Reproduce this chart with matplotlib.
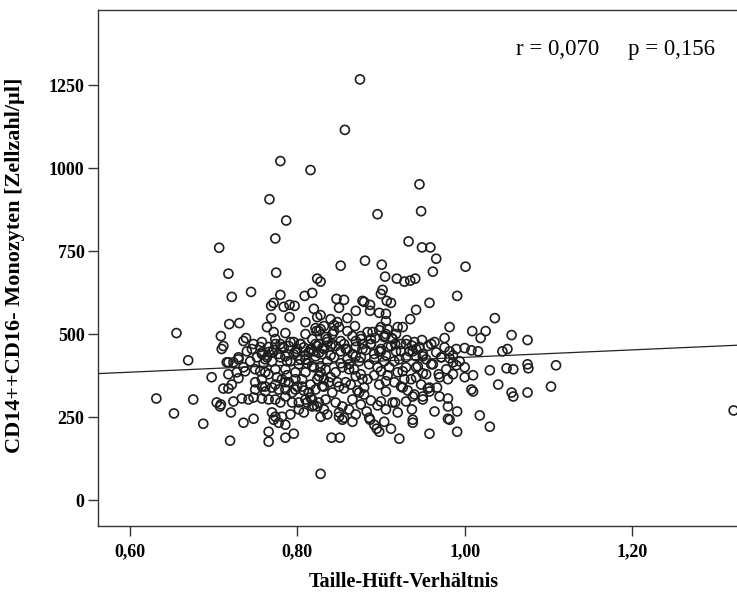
import numpy as np
import matplotlib
matplotlib.use('Agg')
import matplotlib.pyplot as plt

plt.rcParams['font.family'] = ['Liberation Serif', 'DejaVu Serif']

x_label = 'Taille-Hüft-Verhältnis'
y_label = 'CD14++CD16- Monozyten [Zellzahl/µl]'
x_ticks = [0.60, 0.80, 1.00, 1.20]
x_ticklabels = ['0,60', '0,80', '1,00', '1,20']
y_ticks = [0, 250, 500, 750, 1000, 1250]
stats_text = 'r = 0,070     p = 0,156'

# linear fit shown in the chart
fit_intercept = 318
fit_slope = 112

# waist-hip ratio / monocyte count, one row of whr matches one row of mono
whr = [
    0.875, 0.857, 0.780, 0.816, 0.767, 0.787, 0.896, 0.946, 0.948, 0.774,
    0.707, 0.933, 0.949, 0.959, 0.966, 0.881, 0.852, 0.901, 1.001, 0.962,
    0.718, 0.775, 0.905, 0.824, 0.828, 0.919, 0.928, 0.935, 0.941, 0.902,
    0.900, 0.745, 0.722, 0.780, 0.809, 0.818, 0.991, 0.847, 0.856, 0.878,
    0.880, 0.912, 0.907, 0.958, 0.828, 0.632, 0.653, 0.670,
    0.887, 0.769, 0.772, 0.784, 0.791, 0.797, 0.820, 0.850, 0.870, 0.887,
    0.898, 0.906, 0.942, 0.828, 0.906, 0.935, 0.791, 0.769, 0.840, 0.844,
    0.860, 1.036, 0.926, 0.982, 0.719, 0.731, 0.764, 0.869, 0.860, 0.822,
    0.823, 1.009, 1.025, 0.656, 0.786, 0.772, 0.842, 0.890, 0.898, 0.906,
    1.056, 0.709, 0.905, 0.913, 0.904, 0.893, 1.019, 0.739, 0.976, 0.774,
    0.876, 0.736, 1.075, 0.931, 0.940, 0.949, 0.964,
    0.810, 0.824, 0.828, 0.832, 0.848, 0.850, 0.844, 0.866, 0.836, 0.840,
    0.832, 0.824, 0.876, 0.884, 0.888, 0.878, 0.900, 0.908, 0.914, 0.918,
    0.920,
    0.712, 0.716, 0.724, 0.730, 0.746, 0.756, 0.758, 0.764, 0.766, 0.772,
    0.778, 0.780, 0.790, 0.796, 0.784, 0.800, 0.804, 0.808, 0.810, 0.816,
    0.822, 0.826, 0.830, 0.836, 0.840, 0.846, 0.852, 0.856, 0.860, 0.866,
    0.870, 0.876, 0.882, 0.888, 0.892, 0.900, 0.906, 0.912, 0.918, 0.924,
    0.930, 0.942, 0.950, 0.956, 0.966, 0.972, 0.982, 0.990, 0.986, 1.000,
    1.008, 1.016, 1.045, 1.051, 0.960, 0.976, 0.937,
    0.698, 0.718, 0.728, 0.738, 0.730, 0.712, 0.718, 0.722, 0.676, 0.688,
    0.704, 0.708, 0.709, 0.721, 0.724, 0.736, 0.748, 0.720, 0.766, 0.786,
    0.796, 0.734, 0.742, 0.748, 0.758, 0.766, 0.774, 0.780, 0.786, 0.794,
    0.770, 0.774, 0.772, 0.778, 0.782, 0.766, 0.750, 0.758, 0.762, 0.770,
    0.778, 0.786, 0.798, 0.806, 0.814, 0.810, 0.802, 0.818, 0.710, 0.730,
    0.718, 0.758, 0.770, 0.786, 0.798, 0.810, 0.814, 0.820, 0.750, 0.762,
    0.774, 0.786, 0.798, 0.810, 0.758, 0.782, 0.806,
    0.841, 0.851, 0.922, 0.912, 0.895, 0.898, 0.892, 0.886, 0.887, 0.866,
    0.854, 0.850, 0.938, 0.938, 0.937, 0.904, 0.906, 0.920, 0.917, 0.900,
    0.914, 0.930, 0.938, 0.950, 0.906, 0.898, 0.906, 0.926, 0.928, 0.942,
    0.954, 0.920, 0.930, 0.944, 0.950, 0.942, 0.934, 0.870, 0.892, 0.900,
    0.904, 0.916, 0.862,
    0.814, 0.822, 0.830, 0.818, 0.828, 0.834, 0.826, 0.832, 0.838, 0.830,
    0.822, 0.814, 0.818, 0.826, 0.834, 0.842, 0.850, 0.858, 0.846, 0.854,
    0.850, 0.856, 0.862, 0.866, 0.874, 0.880, 0.878, 0.870, 0.862, 0.854,
    0.846,
    0.958, 0.991, 1.030, 1.018, 0.964, 0.980, 0.982, 0.991, 0.980, 0.980,
    0.970, 0.950, 0.956, 0.958, 1.008, 1.010, 1.040, 1.056, 1.058, 1.075,
    1.030, 1.050, 1.058, 1.075, 1.076, 1.000, 1.010, 0.980, 0.970, 0.969,
    0.950, 0.942, 0.960, 0.982, 0.986, 0.990, 1.000, 1.321, 1.109, 1.103,
    0.758, 0.766, 0.774, 0.782, 0.792, 0.800, 0.762, 0.770, 0.780, 0.792,
    0.802, 0.756, 0.766, 0.776, 0.788, 0.798, 0.750, 0.762, 0.774, 0.786,
    0.794, 0.810, 0.818, 0.826, 0.834, 0.842, 0.852, 0.858, 0.804, 0.816,
    0.826, 0.870, 0.878, 0.888, 0.898, 0.908, 0.917, 0.924, 0.874, 0.886,
    0.896, 0.910, 0.922, 0.930, 0.938, 0.946, 0.954, 0.962, 0.972, 0.978,
    0.986, 0.994, 0.926, 0.936, 0.948, 0.958, 0.967, 0.820, 0.824, 0.816,
    0.812, 0.808, 0.828, 0.832, 0.836, 0.876, 0.883, 0.870, 0.792, 0.802,
    0.786,
    0.788, 0.796, 0.804, 0.812, 0.820, 0.828, 0.836, 0.844, 0.852, 0.860,
    0.868, 0.876, 0.884, 0.892, 0.900, 0.908, 0.916, 0.924, 0.932, 0.940,
    0.790, 0.800, 0.808, 0.816, 0.824, 0.832, 0.840, 0.848, 0.856, 0.864,
    0.872, 0.880, 0.888, 0.896, 0.760, 0.752, 0.744, 0.740, 0.748, 0.736,
]

mono = [
    1267, 1115, 1021, 994, 906, 842, 861, 951, 870, 788,
    760, 779, 761, 761, 727, 721, 706, 709, 703, 688,
    682, 685, 673, 667, 658, 667, 658, 661, 667, 633,
    621, 627, 612, 618, 615, 624, 615, 606, 603, 600,
    597, 594, 600, 594, 79, 306, 261, 421,
    588, 585, 594, 582, 588, 585, 576, 579, 570, 570,
    564, 561, 573, 557, 539, 545, 551, 548, 545, 527,
    548, 548, 521, 521, 530, 533, 521, 524, 509, 518,
    509, 509, 509, 503, 503, 506, 500, 506, 512, 500,
    497, 494, 494, 488, 491, 488, 488, 488, 488, 485,
    485, 479, 482, 482, 476, 482, 476,
    536, 551, 515, 524, 536, 521, 509, 494, 485, 464,
    455, 464, 494, 506, 485, 470, 521, 515, 485, 500,
    521,
    464, 415, 415, 424, 455, 461, 440, 430, 446, 452,
    440, 470, 464, 476, 458, 446, 470, 460, 436, 452,
    470, 443, 458, 476, 436, 464, 448, 470, 455, 440,
    461, 430, 452, 470, 440, 455, 436, 464, 448, 470,
    430, 455, 440, 464, 445, 430, 448, 455, 436, 458,
    451, 448, 448, 455, 470, 460, 465,
    370, 379, 385, 388, 367, 336, 336, 348, 303, 230,
    294, 282, 288, 264, 297, 233, 245, 179, 176, 188,
    200, 306, 303, 309, 306, 303, 303, 294, 312, 294,
    264, 251, 242, 233, 251, 206, 333, 342, 327, 339,
    333, 355, 333, 342, 324, 303, 294, 282, 455, 430,
    415, 445, 445, 433, 445, 424, 445, 448, 394, 385,
    394, 394, 385, 385, 364, 364, 364,
    188, 188, 185, 215, 215, 206, 227, 248, 242, 236,
    242, 251, 242, 233, 273, 236, 273, 264, 294, 297,
    294, 297, 312, 303, 358, 348, 327, 339, 364, 370,
    379, 385, 400, 403, 433, 433, 448, 433, 424, 448,
    418, 418, 409,
    445, 433, 439, 403, 403, 394, 373, 364, 355, 343,
    333, 324, 303, 294, 303, 324, 342, 355, 294, 282,
    264, 248, 273, 303, 324, 339, 364, 373, 394, 400,
    385,
    200, 206, 221, 255, 267, 245, 242, 267, 282, 306,
    312, 312, 336, 339, 333, 327, 348, 324, 312, 324,
    391, 397, 394, 409, 397, 370, 376, 364, 370, 379,
    382, 400, 409, 427, 415, 406, 400, 270, 406, 342,
    476, 461, 470, 461, 476, 455, 424, 418, 430, 418,
    409, 388, 379, 370, 376, 364, 355, 342, 348, 333,
    324, 500, 485, 470, 491, 470, 479, 455, 470, 455,
    509, 479, 455, 470, 448, 461, 470, 448, 418, 409,
    400, 400, 424, 470, 448, 461, 424, 409, 430, 394,
    379, 418, 388, 364, 348, 327, 339, 285, 282, 309,
    294, 264, 251, 273, 258, 288, 267, 258, 258, 273,
    227,
    418, 439, 424, 412, 400, 385, 418, 430, 412, 424,
    394, 379, 364, 376, 388, 376, 355, 342, 330, 318,
    355, 342, 330, 348, 364, 342, 370, 355, 336, 348,
    330, 318, 300, 285, 412, 430, 418, 448, 470, 400,
]

W, H = 737, 597
fig = plt.figure(figsize=(W / 100, H / 100), dpi=100)
ax = fig.add_axes([97.7 / W, 1 - 526 / H, 1 - 97.7 / W, (526 - 10) / H])

ax.scatter(whr, mono, s=42, facecolors='none', edgecolors='#1e1e1e', linewidths=1.2, zorder=3)

ax.set_xlim(0.562, 1.325)
ax.set_ylim(-78, 1476)

xs = np.array(ax.get_xlim())
ax.plot(xs, fit_intercept + fit_slope * xs, color='#222222', lw=0.9, zorder=4)

ax.set_xticks(x_ticks)
ax.set_xticklabels(x_ticklabels, fontweight='bold')
ax.set_yticks(y_ticks)
ax.set_yticklabels([str(v) for v in y_ticks], fontweight='bold')
ax.tick_params(direction='out', length=7.5, width=1, labelsize=13, color='#333333', pad=2)
ax.tick_params(axis='x', pad=5)

for side in ['left', 'bottom', 'top']:
    ax.spines[side].set_color('#333333')
    ax.spines[side].set_linewidth(1)
ax.spines['right'].set_visible(False)

ax.set_xlabel(x_label, fontsize=14.5, fontweight='bold')
ax.set_ylabel(y_label, fontsize=16, fontweight='bold')
ax.xaxis.set_label_coords(0.479, -0.09)
ax.yaxis.set_label_coords(-0.114, 0.505)

ax.text(0.9655, 0.924, stats_text, transform=ax.transAxes, ha='right', va='center', fontsize=16.5)

fig.savefig('out.png', dpi=100)
